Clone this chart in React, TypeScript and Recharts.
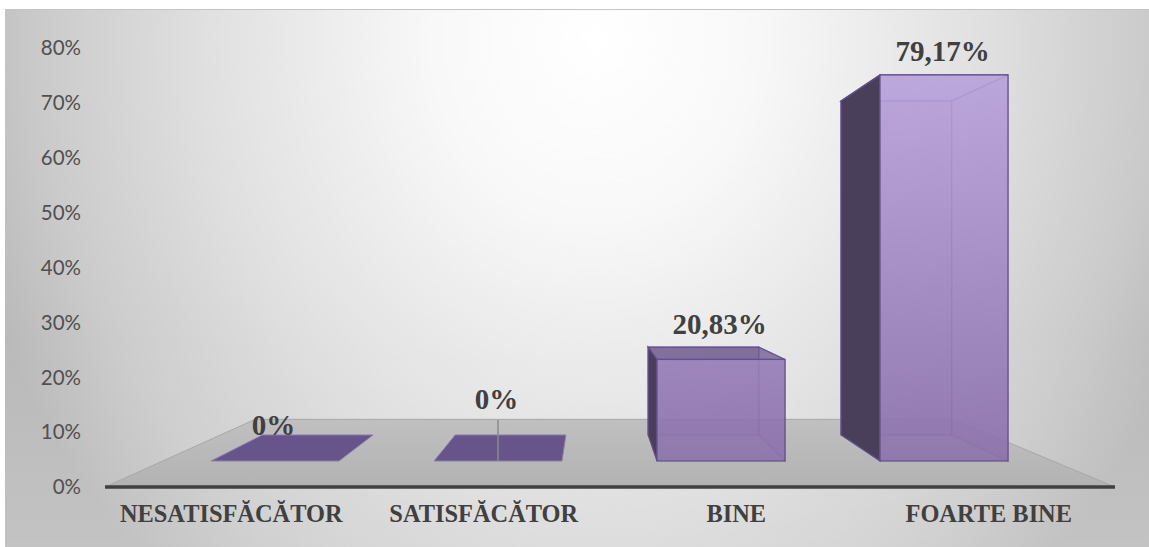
import { BarChart, Bar, XAxis, YAxis, LabelList, usePlotArea } from 'recharts';

const CATEGORIES = ['NESATISFĂCĂTOR', 'SATISFĂCĂTOR', 'BINE', 'FOARTE BINE'];
const SHARES = [0, 0, 20.83, 79.17];
const Y_TICKS = [0, 10, 20, 30, 40, 50, 60, 70, 80];

const rows = CATEGORIES.map((name, i) => ({ name, share: SHARES[i] }));

// fake 3D: everything recedes towards this point
const VANISH = { x: 591, y: 268 };
const BACK_DEPTH = 0.865; // back face of a column relative to its front face
const FLOOR_DEPTH = 0.691; // back edge of the floor relative to the axis line
const LABEL_LIFT = [26, 52, 25, 14];

const back = (x: number, y: number, k: number) => [
  VANISH.x + (x - VANISH.x) * k,
  VANISH.y + (y - VANISH.y) * k,
];
const pts = (list: number[][]) => list.map((p) => p.join(',')).join(' ');

function Floor() {
  const plot = usePlotArea();
  if (!plot) return null;
  const bottom = plot.y + plot.height;
  const left = plot.x;
  const right = plot.x + plot.width;
  return (
    <polygon
      points={pts([
        [left, bottom],
        back(left, bottom, FLOOR_DEPTH),
        back(right, bottom, FLOOR_DEPTH),
        [right, bottom],
      ])}
      fill="url(#floorFill)"
      stroke="#a8a8a8"
      strokeWidth={1}
    />
  );
}

function Column(props: any) {
  const { x, y, width, height, index } = props;
  const r = x + width;
  const b = y + height;
  const bl = back(x, b, BACK_DEPTH);
  const br = back(r, b, BACK_DEPTH);
  const tl = back(x, y, BACK_DEPTH);
  const tr = back(r, y, BACK_DEPTH);

  if (height < 1) {
    return (
      <g>
        <polygon points={pts([[x, b], [r, b], br, bl])} fill="#66548a" stroke="#8f80a8" strokeWidth={1} />
        {index === 1 && <line x1={x + width / 2} x2={x + width / 2} y1={b} y2={b - 41} stroke="#8a8a8a" strokeWidth={1.5} />}
      </g>
    );
  }

  const seenFromBelow = tl[1] > y;
  return (
    <g stroke="#64508e" strokeWidth={1.2}>
      <polygon points={pts([tl, tr, br, bl])} fill="#9a82bc" fillOpacity={0.35} strokeOpacity={0.6} />
      <polygon points={pts([[x, y], [r, y], tr, tl])} fill={seenFromBelow ? '#b7a0da' : '#6d5a8a'} fillOpacity={seenFromBelow ? 0.3 : 0.8} />
      <polygon points={pts([[x, b], bl, tl, [x, y]])} fill="#4a3f5a" />
      <polygon points={pts([[r, y], tr, br, [r, b]])} fill="#9a82bc" fillOpacity={0.3} strokeOpacity={0.6} />
      <rect x={x} y={y} width={width} height={height} fill="url(#columnFill)" fillOpacity={0.88} />
    </g>
  );
}

function ShareLabel(props: any) {
  const { x, y, width, value, index } = props;
  return (
    <text
      x={x + width / 2 - 1.5}
      y={y - LABEL_LIFT[index]}
      textAnchor="middle"
      fontFamily="Liberation Serif"
      fontWeight="bold"
      fontSize={29}
      fill="#404040"
    >
      {`${String(value).replace('.', ',')}%`}
    </text>
  );
}

export default function App() {
  return (
    <div style={{ position: 'absolute', left: 0, top: 0, width: 1149, height: 547, background: '#fff', overflow: 'hidden' }}>
      <div
        style={{
          position: 'absolute',
          left: 5,
          top: 9,
          width: 1144,
          height: 538,
          borderTop: '1px solid #c4c4c4',
          background:
            'linear-gradient(to bottom, rgba(255,255,255,0) 60%, rgba(255,255,255,0.14) 100%), radial-gradient(ellipse 650px 720px at 590px 30px, #ffffff 0%, #f8f8f8 25%, #e0e0e0 60%, #cbcbcb 85%, #b9b9b9 100%)',
        }}
      />
      <div style={{ position: 'absolute', left: 0, top: 0 }}>
        <BarChart
          width={1149}
          height={547}
          data={rows}
          margin={{ top: 48, right: 34, bottom: 30, left: 0 }}
        >
          <defs>
            <linearGradient id="columnFill" gradientUnits="userSpaceOnUse" x1={0} x2={0} y1={75} y2={461}>
              <stop offset="0%" stopColor="#b9a2dc" />
              <stop offset="100%" stopColor="#8a70aa" />
            </linearGradient>
            <linearGradient id="floorFill" x1={0} x2={0} y1={0} y2={1}>
              <stop offset="0%" stopColor="#c0c0c0" />
              <stop offset="100%" stopColor="#b2b2b2" />
            </linearGradient>
          </defs>
          <Floor />
          <XAxis
            dataKey="name"
            axisLine={{ stroke: '#404040', strokeWidth: 3.5 }}
            tickLine={false}
            tickMargin={12}
            interval={0}
            tick={{ fontFamily: 'Liberation Serif', fontWeight: 'bold', fontSize: 24.4, fill: '#404040' }}
          />
          <XAxis xAxisId="columns" dataKey="name" hide padding={{ left: 58, right: 60 }} />
          <YAxis
            type="number"
            allowDataOverflow
            width={105}
            domain={[0, 80]}
            ticks={Y_TICKS}
            tickFormatter={(v) => `${v}%`}
            axisLine={false}
            tickLine={false}
            tickMargin={18}
            tick={{ fontFamily: 'Lato', fontSize: 20.5, fill: '#505050' }}
          />
          {/* the columns stand further back than the axis, on their own flatter scale */}
          <YAxis yAxisId="columns" hide domain={[-5.33, 84.7]} allowDataOverflow />
          <Bar dataKey="share" xAxisId="columns" yAxisId="columns" barSize={128} shape={<Column />} isAnimationActive={false}>
            <LabelList dataKey="share" content={<ShareLabel />} />
          </Bar>
        </BarChart>
      </div>
    </div>
  );
}
